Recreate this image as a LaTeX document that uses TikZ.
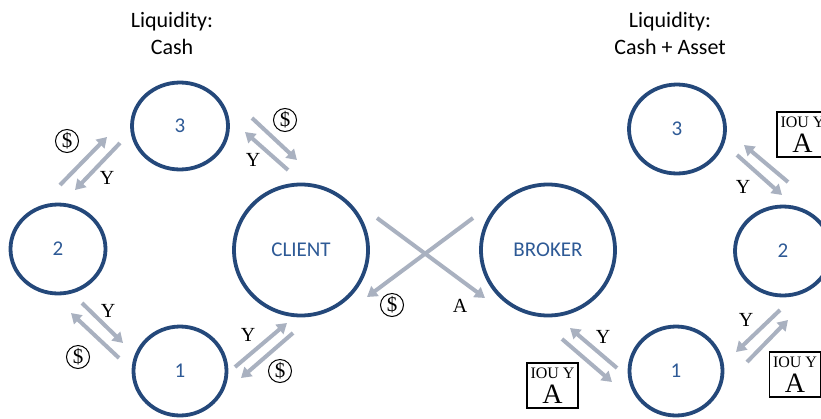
\documentclass[tikz,border=0pt]{standalone}
\usepackage{fontspec}
\setmainfont{Liberation Serif}
\newfontfamily\calib{Carlito}
\usetikzlibrary{shapes.geometric,arrows.meta}
\definecolor{ringblue}{HTML}{24487A}
\definecolor{txtblue}{HTML}{2E5A96}
\definecolor{arrgray}{HTML}{A9B1C0}
\begin{document}
\begin{tikzpicture}[x=1pt,y=-1pt,
  party/.style={ellipse, draw=ringblue, line width=3.8pt, text=txtblue, inner sep=0pt,
    font=\calib\fontsize{21}{25}\selectfont},
  flow/.style={draw=arrgray, line width=4pt, -{Triangle[length=10pt,width=12pt]}},
  lab/.style={inner sep=0pt, font=\fontsize{20}{24}\selectfont},
  coin/.style={circle, draw=black, line width=1pt, minimum size=23pt, inner sep=0pt,
    font=\fontsize{21}{22}\selectfont},
  iou/.style={draw=black, line width=1.2pt, minimum width=51pt, minimum height=45pt,
    inner sep=0pt, align=center, font=\fontsize{28}{25}\selectfont},
  heading/.style={align=center, font=\calib\fontsize{22}{27}\selectfont}]
\useasboundingbox (0,0) rectangle (821,418);
\fill[white] (0,0) rectangle (821,418);

% titles
\node[heading] (t1) at (172,33) {Liquidity:\\Cash};
\node[heading] (t2) at (670,33) {Liquidity:\\Cash + Asset};

% parties
\node[party, minimum width=96pt, minimum height=87pt] (L3) at (180,126) {3};
\node[party, minimum width=95pt, minimum height=89pt] (L2) at (58,249) {2};
\node[party, minimum width=93pt, minimum height=89pt] (L1) at (180,371) {1};
\node[party, minimum width=134pt, minimum height=131pt] (C) at (301,250) {CLIENT};
\node[party, minimum width=134pt, minimum height=131pt] (B) at (548,250) {BROKER};
\node[party, minimum width=96pt, minimum height=89pt] (R3) at (677,129) {3};
\node[party, minimum width=96pt, minimum height=89pt] (R2) at (783,251) {2};
\node[party, minimum width=93pt, minimum height=89pt] (R1) at (676,371) {1};

% arrow end points
\coordinate (a1s) at (60,185);  \coordinate (a1e) at (107,137);
\coordinate (a2s) at (120,143); \coordinate (a2e) at (75,190);
\coordinate (b1s) at (252,118); \coordinate (b1e) at (297,160);
\coordinate (b2s) at (288,170); \coordinate (b2e) at (245,132);
\coordinate (c1s) at (82,303);  \coordinate (c1e) at (123,343);
\coordinate (c2s) at (119,358); \coordinate (c2e) at (71,313);
\coordinate (d1s) at (235,367); \coordinate (d1e) at (287,323);
\coordinate (d2s) at (293,333); \coordinate (d2e) at (241,378);
\coordinate (x1s) at (377,218); \coordinate (x1e) at (485,298);
\coordinate (x2s) at (473,218); \coordinate (x2e) at (367,297);
\coordinate (e1s) at (562,339); \coordinate (e1e) at (612,382);
\coordinate (e2s) at (617,368); \coordinate (e2e) at (570,328);
\coordinate (f1s) at (747,362); \coordinate (f1e) at (788,320);
\coordinate (f2s) at (780,310); \coordinate (f2e) at (736,352);
\coordinate (g1s) at (737,155); \coordinate (g1e) at (782,195);
\coordinate (g2s) at (788,182); \coordinate (g2e) at (744,145);

\foreach \p in {a,b,c,d,x,e,f,g}{
  \draw[flow] (\p1s) -- (\p1e);
  \draw[flow] (\p2s) -- (\p2e);
}

% labels
\node[coin] (s1) at (67,141) {\$};
\node[lab]  (y1) at (107,178) {Y};
\node[coin] (s2) at (285,120) {\$};
\node[lab]  (y2) at (253,160) {Y};
\node[lab]  (y3) at (108,311) {Y};
\node[coin] (s3) at (78,357) {\$};
\node[lab]  (y4) at (248,335) {Y};
\node[coin] (s4) at (280,371) {\$};
\node[coin] (s5) at (392,305) {\$};
\node[lab]  (a5) at (460,306) {A};
\node[lab]  (y6) at (603,337) {Y};
\node[lab]  (y7) at (746,320) {Y};
\node[lab]  (y8) at (743,187) {Y};

% IOU boxes
\node[iou] (i1) at (552.5,385.5) {{\fontsize{16}{16}\selectfont IOU Y}\\A};
\node[iou] (i2) at (795,374.5) {{\fontsize{16}{16}\selectfont IOU Y}\\A};
\node[iou] (i3) at (802.5,134.5) {{\fontsize{16}{16}\selectfont IOU Y}\\A};
\end{tikzpicture}
\end{document}
